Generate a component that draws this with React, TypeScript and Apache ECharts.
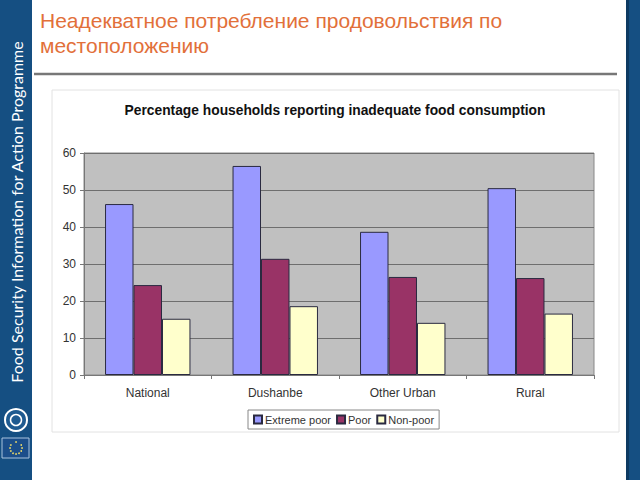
import React, { useEffect, useRef } from "react";
import * as echarts from "echarts";

const categories = ["National", "Dushanbe", "Other Urban", "Rural"];
const extremePoor = [46.2, 56.5, 38.7, 50.5];
const poor = [24.3, 31.4, 26.5, 26.2];
const nonPoor = [15.2, 18.6, 14.1, 16.6];
const seriesNames = ["Extreme poor", "Poor", "Non-poor"];
const yTicks = { min: 0, max: 60, interval: 10 };

const pageTitle = "Неадекватное потребление продовольствия по\nместоположению";
const chartTitle = "Percentage households reporting inadequate food consumption";
const sideText = "Food Security Information for Action Programme";

export default function App() {
  const ref = useRef<HTMLDivElement>(null);
  useEffect(() => {
    if (!ref.current) return;
    const chart = echarts.init(ref.current, null, { renderer: "svg" });
    const stars: any[] = [];
    for (let i = 0; i < 12; i++) {
      const a = (i / 12) * Math.PI * 2;
      stars.push({
        type: "circle",
        shape: { cx: 16 + 6 * Math.cos(a), cy: 448 + 6 * Math.sin(a), r: 0.9 },
        style: { fill: "#E8D86A" },
        z: 20,
      });
    }
    const mk = (name: string, data: number[], color: string) => ({
      name,
      type: "bar",
      data,
      barGap: "0%",
      barCategoryGap: "33%",
      itemStyle: { color, borderColor: "#2a2a40", borderWidth: 1 },
    });
    chart.setOption({
      animation: false,
      backgroundColor: "#ffffff",
      title: [
        {
          text: pageTitle,
          left: 40,
          top: 8,
          padding: 0,
          textStyle: {
            fontFamily: "Arial, Liberation Sans",
            fontSize: 21,
            fontWeight: "normal",
            color: "#E2703A",
            lineHeight: 25,
          },
        },
        {
          text: chartTitle,
          left: 335,
          textAlign: "center",
          top: 103,
          padding: 0,
          textStyle: {
            fontFamily: "Arial, Liberation Sans",
            fontSize: 13.8,
            fontWeight: "bold",
            color: "#111",
          },
        },
      ],
      graphic: [
        { type: "rect", shape: { x: 0, y: 0, width: 32, height: 480 }, style: { fill: "#154F82" }, z: 10 },
        { type: "rect", shape: { x: 628, y: 0, width: 12, height: 480 }, style: { fill: "#154F82" }, z: 10 },
        { type: "rect", shape: { x: 626, y: 0, width: 3, height: 480 }, style: { fill: "#0E3A62" }, z: 10 },
        {
          type: "text",
          x: 16,
          y: 212,
          rotation: Math.PI / 2,
          style: {
            text: sideText,
            fill: "#ffffff",
            font: "16px Lato, 'Open Sans', sans-serif",
            align: "center",
            verticalAlign: "middle",
          },
          z: 20,
        },
        { type: "circle", shape: { cx: 16, cy: 420, r: 11 }, style: { fill: "#1E5A90", stroke: "#ffffff", lineWidth: 2 }, z: 20 },
        { type: "circle", shape: { cx: 16, cy: 420, r: 5.5 }, style: { fill: "none", stroke: "#ffffff", lineWidth: 1.5 }, z: 20 },
        { type: "rect", shape: { x: 2, y: 438, width: 27, height: 20 }, style: { fill: "#1B4E8A", stroke: "#A9C3DD", lineWidth: 1 }, z: 20 },
        ...stars,
        { type: "line", shape: { x1: 34, y1: 74, x2: 617, y2: 74 }, style: { stroke: "#777", lineWidth: 2.5 }, z: 5 },
        { type: "rect", shape: { x: 52, y: 90, width: 567, height: 342 }, style: { fill: "none", stroke: "#e2e2e2", lineWidth: 1 }, z: 1 },
      ],
      legend: {
        data: seriesNames,
        left: 248,
        top: 410,
        orient: "horizontal",
        icon: "rect",
        itemWidth: 8,
        itemHeight: 8,
        itemGap: 5,
        padding: [4, 5, 4, 5],
        borderColor: "#888",
        borderWidth: 1,
        textStyle: { fontFamily: "Arial, Liberation Sans", fontSize: 11, color: "#333", padding: [0, 0, 0, -2] },
      },
      grid: {
        left: 84,
        right: 46,
        top: 153,
        bottom: 105,
        show: true,
        backgroundColor: "#C0C0C0",
        borderColor: "#888",
        borderWidth: 1,
      },
      xAxis: {
        type: "category",
        data: categories,
        axisLine: { lineStyle: { color: "#777" } },
        axisTick: { show: true, lineStyle: { color: "#777" }, length: 4 },
        axisLabel: { fontFamily: "Arial, Liberation Sans", fontSize: 12, color: "#333", margin: 12 },
      },
      yAxis: {
        type: "value",
        min: yTicks.min,
        max: yTicks.max,
        interval: yTicks.interval,
        axisLine: { show: true, lineStyle: { color: "#777" } },
        axisTick: { show: true, lineStyle: { color: "#777" }, length: 4 },
        axisLabel: { fontFamily: "Arial, Liberation Sans", fontSize: 12, color: "#333", margin: 8 },
        splitLine: { lineStyle: { color: "#6e6e6e", width: 1 } },
      },
      series: [
        mk(seriesNames[0], extremePoor, "#9999FF"),
        mk(seriesNames[1], poor, "#993366"),
        mk(seriesNames[2], nonPoor, "#FFFFCC"),
      ],
    });
    return () => chart.dispose();
  }, []);
  return (
    <div
      ref={ref}
      style={{ position: "absolute", left: 0, top: 0, width: 640, height: 480 }}
    />
  );
}
